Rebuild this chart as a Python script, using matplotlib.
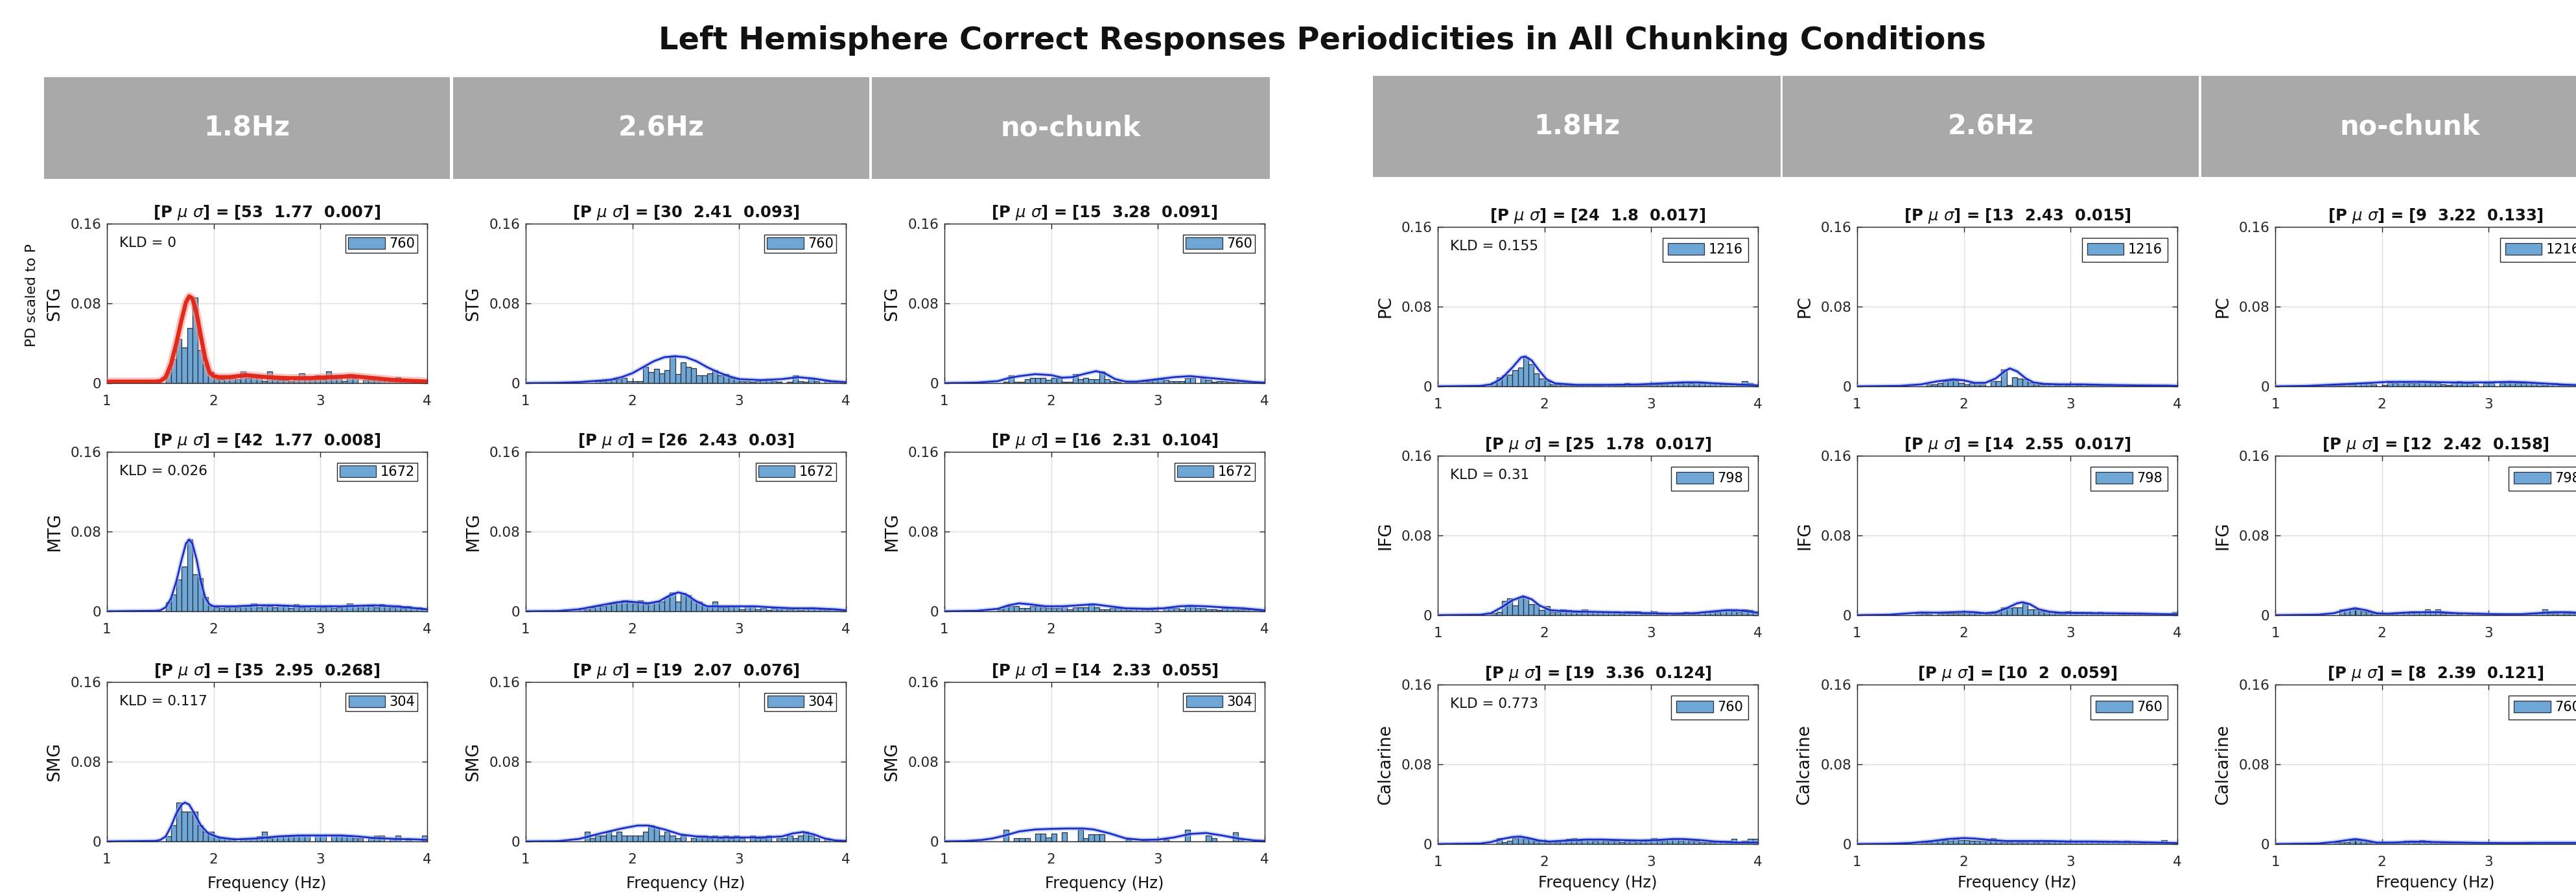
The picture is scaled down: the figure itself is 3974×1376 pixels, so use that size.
import numpy as np
import matplotlib
matplotlib.use('Agg')
import matplotlib.pyplot as plt
from matplotlib.patches import Rectangle

plt.rcParams['font.family'] = ['DejaVu Sans']
plt.rcParams['mathtext.fontset'] = 'dejavusans'

# ---------------- data ----------------
main_title = 'Left Hemisphere Correct Responses Periodicities in All Chunking Conditions'
conditions = ['1.8Hz', '2.6Hz', 'no-chunk']
left_regions = ['STG', 'MTG', 'SMG']
right_regions = ['PC', 'IFG', 'Calcarine']
x_ticks = [1, 2, 3, 4]
y_ticks = [0, 0.08, 0.16]
y_tick_labels = ['0', '0.08', '0.16']

# histogram bin left edges (Hz), width 0.05
freq_bins = [1.00, 1.05, 1.10, 1.15, 1.20, 1.25, 1.30, 1.35, 1.40, 1.45,
             1.50, 1.55, 1.60, 1.65, 1.70, 1.75, 1.80, 1.85, 1.90, 1.95,
             2.00, 2.05, 2.10, 2.15, 2.20, 2.25, 2.30, 2.35, 2.40, 2.45,
             2.50, 2.55, 2.60, 2.65, 2.70, 2.75, 2.80, 2.85, 2.90, 2.95,
             3.00, 3.05, 3.10, 3.15, 3.20, 3.25, 3.30, 3.35, 3.40, 3.45,
             3.50, 3.55, 3.60, 3.65, 3.70, 3.75, 3.80, 3.85, 3.90, 3.95]

# histogram heights (x 0.001)
hist_STG_18 = [0,0,0,0,0,0,0,0,0,0, 0,11,24,44,36,55,86,33,19,11, 4,4,8,5,4,12,5,6,6,2,
               12,4,3,3,2,4,10,4,5,8, 4,12,5,5,2,9,5,0,3,4, 4,3,3,3,6,2,2,1,1,0]
hist_STG_26 = [0,0,0,0,0,0,0,0,0,0, 0,0,0,2,2,3,4,4,5,2, 2,2,16,11,14,10,13,27,9,21,
               16,15,8,8,10,13,8,9,5,5, 2,2,1,2,3,3,2,1,0,1, 8,2,1,5,2,0,3,2,1,0]
hist_STG_nc = [0,0,0,0,0,0,0,0,0,0, 0,1,8,1,1,4,5,5,5,3, 5,5,1,1,9,4,5,4,4,12,
               4,2,1,0,1,1,2,2,2,3, 4,3,2,2,2,5,5,0,5,3, 1,2,2,1,1,2,1,1,0,0]
hist_MTG_18 = [0,0,0,0,0,0,0,0,0,0, 0,9,17,32,45,72,37,33,14,5, 4,3,4,5,4,6,5,8,4,6,
               5,4,6,5,3,7,4,5,3,5, 4,6,3,4,5,8,5,4,6,5, 4,7,5,4,6,3,5,3,4,2]
hist_MTG_26 = [0,0,0,0,0,0,0,0,0,0, 3,2,4,5,5,7,8,9,11,9, 8,11,7,9,10,10,14,19,10,18,
               16,11,10,6,5,10,4,4,5,5, 2,5,5,2,3,1,3,2,4,2, 3,1,3,4,3,2,1,2,1,1]
hist_MTG_nc = [0,0,0,0,0,0,0,0,0,0, 2,5,5,5,3,3,5,5,4,3, 3,3,5,2,4,4,4,8,4,2,
               2,3,3,3,1,3,3,2,2,3, 0,3,3,3,2,5,5,3,3,2, 2,1,3,3,2,2,2,2,1,1]
hist_SMG_18 = [0,0,0,0,0,0,0,0,0,0, 0,5,16,39,30,30,30,16,10,10, 5,4,3,3,0,3,3,3,5,10,
               3,5,6,6,6,6,6,6,0,6, 6,0,6,6,6,6,3,3,0,3, 6,6,0,3,6,0,3,0,0,6]
hist_SMG_26 = [0,0,0,0,0,0,0,0,0,0, 0,10,3,6,6,10,6,10,6,6, 6,6,10,16,14,6,10,6,3,6,
               0,3,6,6,3,6,3,6,3,6, 3,0,6,3,3,6,0,3,3,6, 3,6,10,6,3,0,3,0,0,0]
hist_SMG_nc = [0,0,0,0,0,0,0,0,0,0, 0,12,0,3,3,3,0,8,8,4, 8,0,9,0,0,12,3,7,7,7,
               0,0,0,0,2,0,0,2,0,0, 0,2,0,0,0,12,0,0,0,6, 3,0,0,0,9,3,0,0,0,0]
hist_PC_18 = [0,0,0,0,0,0,0,0,0,0, 4,9,11,12,16,19,29,22,13,8, 5,2,2,1,1,1,1,2,1,1,
              1,0,2,1,1,3,1,1,1,1, 2,2,2,3,3,3,4,3,4,3, 3,3,3,2,2,2,1,5,3,1]
hist_PC_26 = [0,0,0,0,0,0,0,0,0,0, 0,0,0,2,2,3,5,6,6,3, 2,3,2,2,0,5,5,17,1,9,
              8,7,4,2,2,2,2,1,2,1, 2,1,2,1,2,1,1,2,1,1, 1,1,1,1,1,1,0,1,1,0]
hist_PC_nc = [0,0,0,0,0,0,0,0,0,0, 1,1,1,2,2,3,3,3,2,0, 1,4,3,5,4,3,3,5,4,3,
              3,2,1,4,5,3,3,2,0,3, 3,0,3,4,4,3,3,4,3,3, 1,3,3,1,1,1,1,1,1,1]
hist_IFG_18 = [0,0,0,0,0,0,0,0,0,0, 2,3,14,17,10,18,18,11,11,5, 9,3,3,6,5,3,3,6,4,4,
               4,4,3,4,1,4,4,4,1,1, 4,1,1,0,1,1,3,1,1,3, 3,3,3,5,6,4,3,6,5,3]
hist_IFG_26 = [0,0,0,0,0,0,0,0,0,0, 0,3,2,1,0,2,2,2,2,2, 4,3,2,2,1,2,3,8,7,8,
               8,12,6,6,4,4,4,2,1,4, 3,3,3,3,2,3,2,2,2,1, 1,2,2,1,1,1,0,1,1,3]
hist_IFG_nc = [0,0,0,0,0,0,0,0,0,0, 0,0,6,6,6,6,4,3,2,1, 1,1,1,2,3,4,4,3,6,3,
               6,2,2,2,1,0,2,2,2,1, 1,1,1,0,0,0,1,1,2,2, 6,2,2,3,2,2,2,2,1,1]
hist_CAL_18 = [0,0,0,0,0,0,0,0,0,0, 0,6,2,3,6,8,5,5,3,3, 2,3,2,3,5,6,3,5,5,3,
               5,3,3,3,2,3,3,2,3,3, 6,3,3,5,6,3,5,3,3,2, 2,2,3,3,3,5,2,3,5,5]
hist_CAL_26 = [0,0,0,0,0,0,0,0,0,0, 0,0,2,2,3,4,4,3,6,4, 4,3,3,3,3,6,3,2,2,3,
               2,2,3,2,4,2,3,3,3,2, 3,3,3,3,3,2,3,2,3,2, 3,2,2,1,2,1,1,4,1,1]
hist_CAL_nc = [0,0,0,0,0,0,0,0,0,0, 0,2,2,2,4,4,4,2,2,1, 1,2,2,2,3,3,2,4,3,2,
               2,1,1,1,2,1,1,1,1,1, 1,1,1,1,1,1,1,2,2,1, 1,2,1,1,2,1,1,1,1,1]

# fitted density curves (x in Hz, y x 0.001)
fit_x_STG_18 = [1.0,1.45,1.5,1.55,1.6,1.65,1.7,1.74,1.77,1.8,1.84,1.88,1.92,1.96,2.0,2.05,2.15,2.3,2.5,2.7,2.9,3.1,3.3,3.5,3.7,3.9,4.0]
fit_y_STG_18 = [1.5,1.5,2,6,19,40,64,81,87,85,70,47,25,11,7,6,6,8,6,5,5,6,7,5,3,2,1.5]
fit_x_STG_26 = [1.0,1.3,1.5,1.7,1.8,1.9,2.0,2.1,2.2,2.3,2.4,2.5,2.6,2.7,2.8,2.9,3.0,3.2,3.4,3.55,3.7,3.85,4.0]
fit_y_STG_26 = [0,0.3,1,2.5,3.5,6,10,16,22,26,27,26,22,16,11,7,4,3,4,6,4.5,2,1]
fit_x_STG_nc = [1.0,1.3,1.5,1.6,1.7,1.85,2.0,2.1,2.2,2.3,2.42,2.5,2.6,2.7,2.8,3.0,3.15,3.3,3.5,3.7,3.9,4.0]
fit_y_STG_nc = [0,0.5,2,5,7,9,8,5.5,6,9,12,10,4,1.5,1.5,4,6,7,5,3,1,0.5]
fit_x_MTG_18 = [1.0,1.45,1.5,1.55,1.6,1.65,1.7,1.74,1.77,1.8,1.84,1.88,1.92,1.96,2.0,2.2,2.4,2.6,2.8,3.0,3.2,3.5,3.7,3.9,4.0]
fit_y_MTG_18 = [0,0.5,1,4,13,30,52,68,72,68,52,30,14,7,5,5,6,6,5,5,5,6,5,3,2]
fit_x_MTG_26 = [1.0,1.3,1.5,1.7,1.85,1.95,2.05,2.15,2.25,2.35,2.43,2.5,2.6,2.7,2.85,3.0,3.15,3.3,3.5,3.7,3.9,4.0]
fit_y_MTG_26 = [0,0.3,2,6,9,10,9,8,10,16,19,17,10,5,5,5,5,4,3,3,2,1]
fit_x_MTG_nc = [1.0,1.3,1.5,1.6,1.7,1.8,1.95,2.1,2.25,2.4,2.55,2.7,2.9,3.05,3.2,3.3,3.45,3.6,3.8,3.95,4.0]
fit_y_MTG_nc = [0,0.5,2.5,6,8,7,5,5,6,7,5,3,2.5,3,5,5.5,5,4,3,1.5,1]
fit_x_SMG_18 = [1.0,1.45,1.5,1.55,1.6,1.65,1.7,1.73,1.77,1.82,1.88,1.95,2.05,2.2,2.4,2.6,2.8,3.0,3.2,3.35,3.5,3.7,3.9,4.0]
fit_y_SMG_18 = [0,0.5,1.5,5,15,28,37,39,37,28,16,8,4,2,3,5,6,6,6,5,3.5,2.5,2,1.5]
fit_x_SMG_26 = [1.0,1.3,1.5,1.7,1.9,2.05,2.15,2.3,2.45,2.6,2.8,3.0,3.2,3.4,3.5,3.6,3.7,3.8,3.9,4.0]
fit_y_SMG_26 = [0,0.3,2.5,8,13,16,16,12,7,5,4,4,4,5,8,9.5,7,3,1,0.5]
fit_x_SMG_nc = [1.0,1.2,1.35,1.45,1.55,1.7,1.85,2.0,2.15,2.3,2.4,2.55,2.7,2.85,3.0,3.15,3.3,3.45,3.6,3.75,3.9,4.0]
fit_y_SMG_nc = [0,0.4,1.5,3,5.5,10,12,12.6,13,13,12,8,3,1.5,1.8,4,7.5,8.5,6,3,1,0.5]
fit_x_PC_18 = [1.0,1.4,1.5,1.6,1.7,1.78,1.82,1.88,1.95,2.02,2.1,2.3,2.6,2.9,3.1,3.3,3.45,3.6,3.8,4.0]
fit_y_PC_18 = [0,0.5,2,8,19,29,30,26,16,7,3,1.5,1.5,2,3,4,4,3,2,1]
fit_x_PC_26 = [1.0,1.4,1.6,1.75,1.9,2.0,2.1,2.2,2.3,2.38,2.43,2.5,2.58,2.65,2.75,2.9,3.1,3.3,3.6,3.9,4.0]
fit_y_PC_26 = [0,0.5,2,5,7,6,3.5,3.5,8,15,18,15,8,4,2.5,2,2,1.5,1,0.8,0.5]
fit_x_PC_nc = [1.0,1.3,1.5,1.7,1.9,2.05,2.2,2.4,2.6,2.8,3.0,3.2,3.35,3.5,3.7,3.9,4.0]
fit_y_PC_nc = [0,0.5,1.5,2.5,3.5,4.5,4.5,4.5,4,3.8,4,4.5,4,3,1.8,1,0.8]
fit_x_IFG_18 = [1.0,1.4,1.5,1.6,1.7,1.8,1.88,1.95,2.05,2.2,2.4,2.6,2.8,3.0,3.2,3.4,3.55,3.7,3.8,3.9,4.0]
fit_y_IFG_18 = [0,0.5,2,8,15,19,16,10,5,4,3.5,3,2.5,2,1.5,2,3.5,5,5,4,2.5]
fit_x_IFG_26 = [1.0,1.3,1.5,1.6,1.75,1.9,2.0,2.1,2.2,2.3,2.4,2.5,2.55,2.62,2.7,2.8,2.9,3.1,3.3,3.5,3.7,3.9,4.0]
fit_y_IFG_26 = [0,0.5,2,2.7,2.5,3,3.4,3,2,3,7,12,13,11,6,3.5,2.5,2.2,2,1.8,1.5,1,1]
fit_x_IFG_nc = [1.0,1.4,1.55,1.65,1.75,1.85,1.95,2.05,2.2,2.4,2.55,2.7,2.9,3.1,3.3,3.45,3.6,3.75,3.9,4.0]
fit_y_IFG_nc = [0,0.5,2,5,7,5,2,1.5,2.5,3,3,2,1.5,1,1,2,3,3,2,1.5]
fit_x_CAL_18 = [1.0,1.4,1.5,1.6,1.7,1.77,1.85,1.95,2.05,2.2,2.4,2.55,2.7,2.9,3.05,3.2,3.3,3.45,3.6,3.8,4.0]
fit_y_CAL_18 = [0,0.5,2,5,7,7.5,6,3.5,2.5,3.5,4.5,4.5,4,3.5,4,5,5,4,2.5,1.5,1.5]
fit_x_CAL_26 = [1.0,1.3,1.5,1.7,1.85,2.0,2.1,2.25,2.4,2.6,2.8,3.0,3.2,3.4,3.6,3.8,4.0]
fit_y_CAL_26 = [0,0.3,1,3,5,6,5.5,4,3,3,3,2.5,2.5,2.2,2,1.5,1]
fit_x_CAL_nc = [1.0,1.4,1.55,1.65,1.75,1.85,1.95,2.1,2.3,2.5,2.7,2.9,3.2,3.5,3.8,4.0]
fit_y_CAL_nc = [0,0.5,2,3.5,5,3.5,1.5,1.5,2.4,2,1.6,1.2,1,1.2,1.2,1]

# fitted parameters shown in the titles
P_left = [[53, 30, 15], [42, 26, 16], [35, 19, 14]]
mu_left = [[1.77, 2.41, 3.28], [1.77, 2.43, 2.31], [2.95, 2.07, 2.33]]
sigma_left = [[0.007, 0.093, 0.091], [0.008, 0.03, 0.104], [0.268, 0.076, 0.055]]
P_right = [[24, 13, 9], [25, 14, 12], [19, 10, 8]]
mu_right = [[1.8, 2.43, 3.22], [1.78, 2.55, 2.42], [3.36, 2, 2.39]]
sigma_right = [[0.017, 0.015, 0.133], [0.017, 0.017, 0.158], [0.124, 0.059, 0.121]]
kld_left = [0, 0.026, 0.117]
kld_right = [0.155, 0.31, 0.773]
n_left = [760, 1672, 304]
n_right = [1216, 798, 760]

hist_left = [[hist_STG_18, hist_STG_26, hist_STG_nc],
             [hist_MTG_18, hist_MTG_26, hist_MTG_nc],
             [hist_SMG_18, hist_SMG_26, hist_SMG_nc]]
hist_right = [[hist_PC_18, hist_PC_26, hist_PC_nc],
              [hist_IFG_18, hist_IFG_26, hist_IFG_nc],
              [hist_CAL_18, hist_CAL_26, hist_CAL_nc]]
fit_left = [[(fit_x_STG_18, fit_y_STG_18), (fit_x_STG_26, fit_y_STG_26), (fit_x_STG_nc, fit_y_STG_nc)],
            [(fit_x_MTG_18, fit_y_MTG_18), (fit_x_MTG_26, fit_y_MTG_26), (fit_x_MTG_nc, fit_y_MTG_nc)],
            [(fit_x_SMG_18, fit_y_SMG_18), (fit_x_SMG_26, fit_y_SMG_26), (fit_x_SMG_nc, fit_y_SMG_nc)]]
fit_right = [[(fit_x_PC_18, fit_y_PC_18), (fit_x_PC_26, fit_y_PC_26), (fit_x_PC_nc, fit_y_PC_nc)],
             [(fit_x_IFG_18, fit_y_IFG_18), (fit_x_IFG_26, fit_y_IFG_26), (fit_x_IFG_nc, fit_y_IFG_nc)],
             [(fit_x_CAL_18, fit_y_CAL_18), (fit_x_CAL_26, fit_y_CAL_26), (fit_x_CAL_nc, fit_y_CAL_nc)]]

# ---------------- layout / style ----------------
W, H, DPI = 3974, 1376, 100
AX_W, AX_H = 494, 246
BAR_FACE = '#6ea6d6'
BAR_EDGE = '#2a2f38'
LINE_BLUE = '#1b2fc4'
AX_COL = '#262626'

fig = plt.figure(figsize=(W / DPI, H / DPI), dpi=DPI, facecolor='white')

fig.text(2040 / W, 1 - 63 / H, main_title, ha='center', va='center',
         fontsize=34.5, fontweight='bold', color='#111111')

groups = [
    dict(cols=[165, 811, 1457], rows=[345, 697, 1052],
         headers=[(68, 694), (699, 1341), (1345, 1959)], header_y=(119, 276),
         regions=left_regions, hist=hist_left, fit=fit_left, P=P_left, mu=mu_left,
         sigma=sigma_left, kld=kld_left, n=n_left, xlab_off=65, leg_pad=0.2),
    dict(cols=[2218, 2865, 3510], rows=[350, 703, 1056],
         headers=[(2118, 2747), (2750, 3392), (3396, 4040)], header_y=(117, 273),
         regions=right_regions, hist=hist_right, fit=fit_right, P=P_right, mu=mu_right,
         sigma=sigma_right, kld=kld_right, n=n_right, xlab_off=60, leg_pad=0.4),
]

for gi, g in enumerate(groups):
    y0, y1 = g['header_y']
    for ci, (x0, x1) in enumerate(g['headers']):
        fig.add_artist(Rectangle((x0 / W, 1 - y1 / H), (x1 - x0) / W, (y1 - y0) / H,
                                 transform=fig.transFigure, facecolor='#a9a9a9',
                                 edgecolor='none', zorder=0))
        fig.text((x0 + x1) / 2 / W, 1 - (y0 + y1) / 2 / H, conditions[ci],
                 ha='center', va='center', fontsize=30, fontweight='bold', color='white')

    for ri in range(3):
        for ci in range(3):
            left = g['cols'][ci]
            top = g['rows'][ri]
            ax = fig.add_axes([left / W, 1 - (top + AX_H) / H, AX_W / W, AX_H / H])
            heights = np.asarray(g['hist'][ri][ci], dtype=float) / 1000.0
            ax.bar(freq_bins, heights, width=0.05, align='edge', color=BAR_FACE,
                   edgecolor=BAR_EDGE, linewidth=0.9, label=str(g['n'][ri]), zorder=2)
            fx, fy = g['fit'][ri][ci]
            fy = np.asarray(fy, dtype=float) / 1000.0
            if gi == 0 and ri == 0 and ci == 0:
                ax.plot(fx, fy, color='#f19a92', lw=9, alpha=0.55, zorder=3)
                ax.plot(fx, fy, color='#e3281c', lw=4.5, zorder=4)
            else:
                ax.plot(fx, fy, color='#9fb2f2', lw=5, alpha=0.5, zorder=3)
                ax.plot(fx, fy, color=LINE_BLUE, lw=2.0, zorder=4)

            ax.set_xlim(1, 4)
            ax.set_ylim(0, 0.16)
            ax.set_xticks(x_ticks)
            ax.set_xticklabels([str(t) for t in x_ticks])
            ax.set_yticks(y_ticks)
            ax.set_yticklabels(y_tick_labels)
            ax.set_axisbelow(True)
            ax.grid(True, color='#dedede', lw=1)
            ax.tick_params(direction='in', length=6, width=1, top=True, right=True,
                           labelsize=15.5, colors=AX_COL)
            ax.tick_params(axis='x', pad=13)
            ax.tick_params(axis='y', pad=6)
            for s in ax.spines.values():
                s.set_color(AX_COL)
                s.set_linewidth(1.0)

            title = '[P $\\mu$ $\\sigma$] = [{:g}  {:g}  {:g}]'.format(
                g['P'][ri][ci], g['mu'][ri][ci], g['sigma'][ri][ci])
            ax.set_title(title, fontsize=17.5, fontweight='bold', pad=7, color='#111111')

            leg = ax.legend(loc='upper right', bbox_to_anchor=(1 - 15 / AX_W, 1 - 17 / AX_H),
                            borderaxespad=0, fontsize=15, frameon=True, fancybox=False,
                            framealpha=1, edgecolor=AX_COL, handlelength=2.7,
                            handleheight=0.95, borderpad=g['leg_pad'], handletextpad=0.3)
            leg.get_frame().set_linewidth(1.0)

            ax.set_ylabel(g['regions'][ri], fontsize=19, va='center', color='#111111')
            ax.yaxis.set_label_coords(-81 / AX_W, 0.5)

            if ci == 0:
                ax.text(19 / AX_W, 1 - 20 / AX_H, 'KLD = {:g}'.format(g['kld'][ri]),
                        transform=ax.transAxes, ha='left', va='top', fontsize=15.5,
                        color='#111111')
            if gi == 0 and ri == 0 and ci == 0:
                ax.text(-116 / AX_W, 0.55, 'PD scaled to P', rotation=90,
                        transform=ax.transAxes, ha='center', va='center', fontsize=16,
                        color='#111111')
            if ri == 2:
                ax.set_xlabel('Frequency (Hz)', fontsize=17.5, va='center', color='#111111')
                ax.xaxis.set_label_coords(0.5, -g['xlab_off'] / AX_H)

fig.savefig('out.png', dpi=DPI, facecolor='white')
